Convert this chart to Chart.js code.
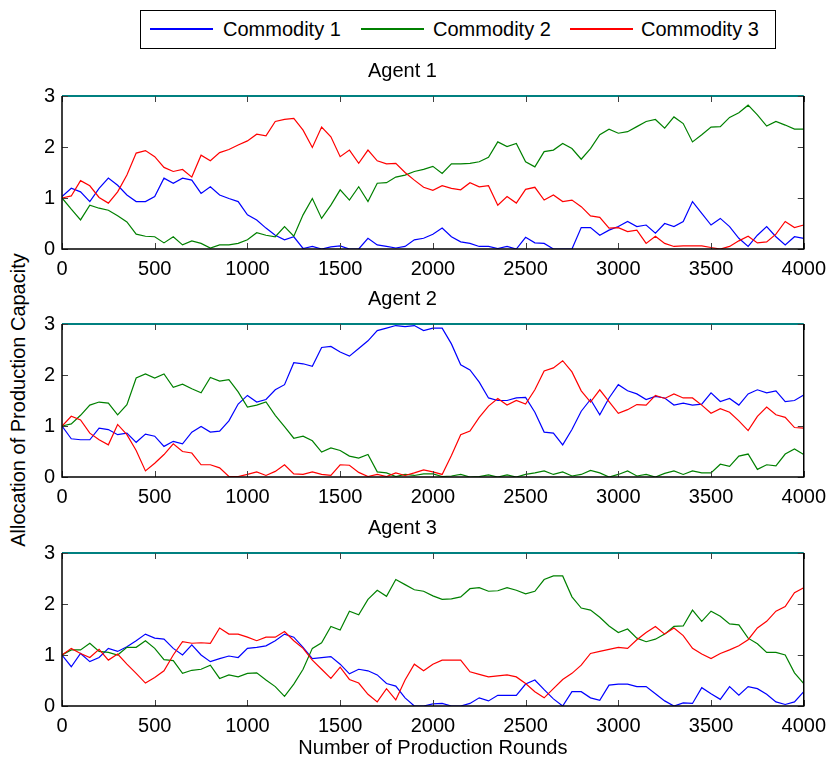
<!DOCTYPE html>
<html>
<head>
<meta charset="utf-8">
<script src="https://cdn.jsdelivr.net/npm/chart.js@4.4.1/dist/chart.umd.min.js"></script>
<style>
  body { margin: 0; background: #fff; }
  #fig { position: relative; width: 834px; height: 765px; background: #fff;
         font-family: "Liberation Sans", Arial, sans-serif; color: #000; }
  #fig canvas { position: absolute; left: 0; }
  #legend { position: absolute; left: 140px; top: 10px; width: 636px; height: 39px;
            border: 1px solid #000; box-sizing: border-box; }
  .key { position: absolute; top: 17px; width: 63px; height: 2px; }
  .lbl { position: absolute; top: 6px; font-size: 20px; line-height: 24px; white-space: nowrap; }
  #ylabel { position: absolute; left: 18px; top: 400px; white-space: nowrap; font-size: 20px;
            transform: translate(-50%, -50%) rotate(-90deg); }
</style>
</head>
<body>
<div id="fig">
  <div id="legend"></div>
  <div id="ylabel">Allocation of Production Capacity</div>
  <canvas id="agent1" width="834" height="224" style="top:59px"></canvas>
  <canvas id="agent2" width="834" height="224" style="top:287px"></canvas>
  <canvas id="agent3" width="834" height="244" style="top:516px"></canvas>
</div>
<script>
// production round sampled every 50 rounds
const rounds = Array.from({ length: 81 }, (_, i) => i * 50);

const commodityNames = ['Commodity 1', 'Commodity 2', 'Commodity 3'];
const commodityColors = ['#0000ff', '#008000', '#ff0000'];
const agentTitles = ['Agent 1', 'Agent 2', 'Agent 3'];
const xLabel = 'Number of Production Rounds';

// total capacity of each agent (constant)
const totalRounds = [0, 4000];
const totalCapacity = [3, 3];

const agent1C1 = [1.03,1.19,1.12,0.93,1.19,1.39,1.25,1.06,0.93,0.93,1.03,1.39,1.29,1.39,1.35,1.09,1.22,1.06,0.99,0.93,
  0.67,0.57,0.41,0.27,0.18,0.24,0.01,0.05,0,0.04,0.06,0,0,0.21,0.08,0.05,0.02,0.05,0.18,0.21,0.29,
  0.41,0.24,0.14,0.11,0.05,0.05,0.01,0.05,0,0.23,0.12,0.11,0,0,0,0.42,0.42,0.27,0.37,0.44,
  0.54,0.44,0.47,0.31,0.50,0.44,0.54,0.93,0.70,0.47,0.60,0.44,0.21,0.05,0.27,0.44,0.24,0.08,0.24,0.21];
const agent1C2 = [1.0,0.78,0.57,0.86,0.80,0.76,0.65,0.53,0.29,0.25,0.24,0.12,0.24,0.08,0.16,0.11,0.02,0.08,0.08,0.11,
  0.18,0.32,0.27,0.24,0.44,0.25,0.67,0.99,0.60,0.86,1.16,0.96,1.22,0.93,1.29,1.30,1.41,1.45,1.52,1.56,1.62,
  1.48,1.67,1.67,1.68,1.71,1.80,2.10,2.01,2.07,1.71,1.61,1.91,1.94,2.07,1.97,1.76,1.97,2.24,2.35,2.27,
  2.30,2.40,2.50,2.54,2.37,2.59,2.46,2.10,2.24,2.39,2.40,2.58,2.67,2.82,2.63,2.41,2.50,2.43,2.35,2.35];
const agent1C3 = [1.0,1.04,1.34,1.24,1.01,0.90,1.12,1.45,1.88,1.93,1.81,1.60,1.52,1.56,1.41,1.84,1.73,1.89,1.95,2.04,
  2.12,2.25,2.22,2.50,2.54,2.56,2.33,1.99,2.39,2.20,1.81,1.94,1.68,1.94,1.73,1.67,1.68,1.50,1.35,1.21,1.15,
  1.24,1.19,1.16,1.30,1.22,1.24,0.86,1.03,0.90,1.17,1.21,0.96,1.06,0.93,0.96,0.83,0.65,0.62,0.41,0.42,
  0.34,0.37,0.11,0.25,0.11,0.05,0.06,0.06,0.06,0.03,0,0.05,0.16,0.25,0.12,0.14,0.29,0.54,0.42,0.47];

const agent2C1 = [1.0,0.75,0.73,0.73,0.96,0.93,0.83,0.86,0.68,0.84,0.80,0.60,0.70,0.65,0.88,0.99,0.88,0.90,1.10,1.43,
  1.60,1.47,1.52,1.71,1.81,2.24,2.22,2.17,2.54,2.56,2.45,2.37,2.52,2.67,2.87,2.92,2.97,2.95,2.97,2.87,2.92,
  2.92,2.61,2.20,2.10,1.86,1.55,1.50,1.50,1.55,1.56,1.27,0.88,0.86,0.63,0.93,1.29,1.52,1.22,1.55,1.81,
  1.69,1.63,1.52,1.58,1.55,1.41,1.45,1.41,1.43,1.65,1.48,1.54,1.41,1.63,1.71,1.65,1.69,1.48,1.50,1.61];
const agent2C2 = [1.0,1.04,1.21,1.41,1.47,1.45,1.22,1.42,1.94,2.02,1.94,2.02,1.76,1.82,1.73,1.65,1.95,1.88,1.91,1.67,
  1.37,1.41,1.47,1.21,0.99,0.76,0.80,0.71,0.49,0.57,0.52,0.41,0.37,0.44,0.10,0.08,0.01,0.05,0.03,0.06,0.06,
  0.01,0.02,0.05,0,0.01,0.04,0,0.04,0,0.05,0.08,0.12,0.05,0.10,0.02,0.05,0.13,0.08,0,0.05,
  0.12,0.02,0.05,0,0.07,0.12,0.05,0.12,0.08,0.08,0.25,0.21,0.41,0.45,0.15,0.24,0.22,0.45,0.55,0.44];
const agent2C3 = [1.0,1.19,1.12,0.86,0.73,0.63,1.03,0.83,0.52,0.12,0.27,0.44,0.65,0.50,0.47,0.24,0.24,0.18,0.01,0.01,
  0.05,0.10,0.03,0.11,0.24,0.06,0.05,0.10,0.05,0.03,0.24,0.23,0.09,0.01,0.05,0.01,0.08,0.03,0.08,0.14,0.10,
  0.05,0.42,0.83,0.90,1.17,1.39,1.54,1.41,1.50,1.43,1.71,2.08,2.14,2.28,2.06,1.69,1.47,1.71,1.48,1.25,
  1.32,1.42,1.41,1.60,1.54,1.63,1.55,1.55,1.41,1.25,1.34,1.27,1.10,0.91,1.19,1.37,1.22,1.17,0.97,0.96];

const agent3C1 = [1.0,0.77,1.03,0.87,0.95,1.13,1.07,1.16,1.28,1.41,1.33,1.31,1.13,1.00,1.20,1.00,0.87,0.93,0.98,0.95,
  1.13,1.15,1.18,1.28,1.41,1.35,1.15,0.93,0.95,0.97,0.82,0.63,0.72,0.69,0.61,0.44,0.39,0.16,0,0,0.04,
  0.05,0,0,0.05,0.16,0.10,0.21,0.21,0.21,0.43,0.51,0.32,0.14,0,0.28,0.28,0.16,0.11,0.41,0.43,
  0.43,0.38,0.38,0.24,0.10,0,0.06,0.05,0.36,0.24,0.13,0.38,0.21,0.38,0.34,0.23,0.08,0.03,0.08,0.28];
const agent3C2 = [1.0,1.10,1.10,1.23,1.07,1.05,1.00,1.15,1.15,1.28,1.13,0.91,0.89,0.64,0.70,0.72,0.80,0.54,0.61,0.57,
  0.64,0.65,0.51,0.38,0.19,0.43,0.72,1.13,1.24,1.56,1.49,1.86,1.79,2.09,2.27,2.15,2.48,2.38,2.28,2.25,2.16,
  2.09,2.10,2.14,2.30,2.32,2.25,2.26,2.32,2.27,2.20,2.25,2.48,2.55,2.55,2.14,1.92,1.88,1.74,1.57,1.44,
  1.51,1.33,1.26,1.31,1.41,1.56,1.57,1.88,1.66,1.86,1.76,1.61,1.59,1.33,1.22,1.05,1.05,1.00,0.65,0.44];
const agent3C3 = [1.0,1.13,1.03,0.95,1.11,0.90,1.02,0.82,0.64,0.45,0.56,0.69,1.00,1.26,1.23,1.24,1.23,1.53,1.41,1.41,
  1.35,1.28,1.35,1.35,1.46,1.28,1.13,0.90,0.72,0.54,0.76,0.52,0.45,0.23,0.08,0.34,0.12,0.51,0.82,0.69,0.82,
  0.90,0.90,0.90,0.67,0.62,0.57,0.59,0.61,0.57,0.44,0.28,0.16,0.34,0.52,0.64,0.80,1.03,1.07,1.11,1.15,
  1.13,1.30,1.44,1.56,1.41,1.53,1.38,1.13,1.02,0.93,1.03,1.10,1.18,1.30,1.53,1.66,1.86,1.95,2.22,2.32];

const agentSeries = [
  [agent1C1, agent1C2, agent1C3],
  [agent2C1, agent2C2, agent2C3],
  [agent3C1, agent3C2, agent3C3]
];

const FONT = '"Liberation Sans", Arial, sans-serif';
Chart.defaults.font.family = FONT;
Chart.defaults.font.size = 20;
Chart.defaults.color = '#000';

// legend box above the panels
const legend = document.getElementById('legend');
const keyLeft = [9, 220, 429];
const textLeft = [82, 292, 500];
commodityNames.forEach((name, i) => {
  const key = document.createElement('div');
  key.className = 'key';
  key.style.left = keyLeft[i] + 'px';
  key.style.backgroundColor = commodityColors[i];
  legend.appendChild(key);
  const lbl = document.createElement('div');
  lbl.className = 'lbl';
  lbl.style.left = textLeft[i] + 'px';
  lbl.textContent = name;
  legend.appendChild(lbl);
});

// box around the plot area with inward tick marks on all four sides
const boxFrame = {
  id: 'boxFrame',
  afterDraw(chart) {
    const { ctx, chartArea: a, scales: { x, y } } = chart;
    ctx.save();
    ctx.strokeStyle = '#404040';
    ctx.lineWidth = 1;
    ctx.beginPath();
    x.ticks.forEach(t => {
      const px = Math.round(x.getPixelForValue(t.value)) + 0.5;
      ctx.moveTo(px, a.top); ctx.lineTo(px, a.top + 6);
      ctx.moveTo(px, a.bottom); ctx.lineTo(px, a.bottom - 6);
    });
    y.ticks.forEach(t => {
      const py = Math.round(y.getPixelForValue(t.value)) + 0.5;
      ctx.moveTo(a.left, py); ctx.lineTo(a.left + 6, py);
      ctx.moveTo(a.right, py); ctx.lineTo(a.right - 6, py);
    });
    ctx.stroke();
    ctx.strokeStyle = '#000';
    ctx.lineWidth = 1.5;
    ctx.beginPath();
    ctx.moveTo(a.left, a.top);
    ctx.lineTo(a.left, a.bottom);
    ctx.lineTo(a.right, a.bottom);
    ctx.lineTo(a.right, a.top);
    ctx.stroke();
    ctx.restore();
  }
};

const plainNumber = v => String(v);

function makeAgentChart(id, idx, last) {
  const datasets = agentSeries[idx].map((vals, i) => ({
    label: commodityNames[i],
    data: rounds.map((r, j) => ({ x: r, y: vals[j] })),
    borderColor: commodityColors[i],
    borderWidth: 1.2,
    pointRadius: 0,
    tension: 0,
    order: 3 - i
  }));
  datasets.push({
    label: 'Total',
    data: totalRounds.map((r, j) => ({ x: r, y: totalCapacity[j] })),
    borderColor: '#008080',
    borderWidth: 2,
    pointRadius: 0,
    clip: false,
    order: 0
  });

  new Chart(document.getElementById(id), {
    type: 'line',
    data: { datasets },
    plugins: [boxFrame],
    options: {
      responsive: false,
      animation: false,
      layout: { padding: { left: 0, right: 29, top: 0, bottom: 0 } },
      plugins: {
        legend: { display: false },
        tooltip: { enabled: false },
        title: {
          display: true,
          text: agentTitles[idx],
          font: { size: 20, weight: 'normal' },
          color: '#000',
          padding: { top: 0, bottom: 13 }
        }
      },
      scales: {
        x: {
          type: 'linear',
          min: 0, max: 4000,
          ticks: { stepSize: 500, padding: 8, maxRotation: 0, autoSkip: false, callback: plainNumber },
          grid: { display: false, drawTicks: false },
          border: { display: false },
          title: { display: last, text: xLabel, font: { size: 20 }, color: '#000', padding: 0 },
          afterFit(s) { s.height = last ? 54 : 34; }
        },
        y: {
          min: 0, max: 3,
          ticks: { stepSize: 1, padding: 7, callback: plainNumber },
          grid: { display: false, drawTicks: false },
          border: { display: false },
          afterFit(s) { s.width = 62; }
        }
      }
    }
  });
}

makeAgentChart('agent1', 0, false);
makeAgentChart('agent2', 1, false);
makeAgentChart('agent3', 2, true);
</script>
</body>
</html>
